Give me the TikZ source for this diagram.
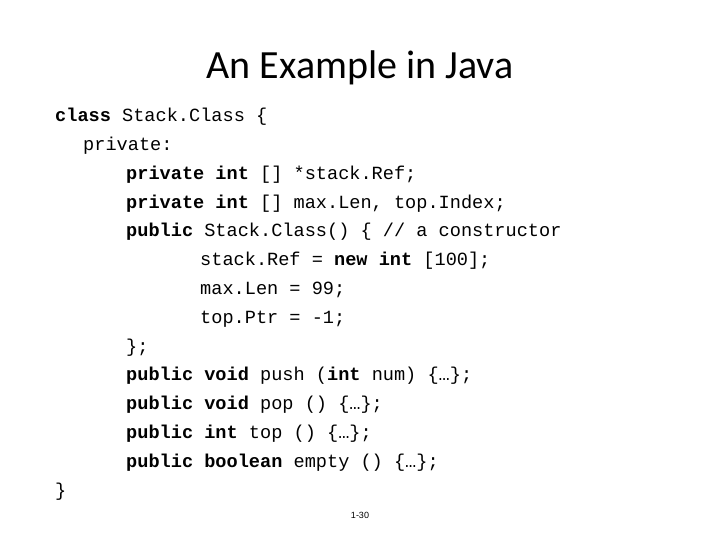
\documentclass[tikz,border=0pt]{standalone}
\usepackage{fontspec}
\setmainfont{Carlito}
\newfontfamily\codefont{Liberation Mono}
\newfontfamily\footfont{Liberation Sans}
\begin{document}
\begin{tikzpicture}[x=1pt,y=1pt,
  code/.style={anchor=west,inner sep=0pt,font=\codefont\fontsize{18.6}{20}\selectfont}]
\useasboundingbox (0,0) rectangle (720,540);
\node[font=\fontsize{40}{44}\selectfont] (title) at (360,472) {An Example in Java};
\node[code] (l1) at (55,423) {\textbf{class} Stack.Class \{};
\node[code] (l2) at (83,394) {private:};
\node[code] (l3) at (126,365) {\textbf{private int} [] *stack.Ref;};
\node[code] (l4) at (126,336) {\textbf{private int} [] max.Len, top.Index;};
\node[code] (l5) at (126,308) {\textbf{public} Stack.Class() \{ // a constructor};
\node[code] (l6) at (200,279) {stack.Ref = \textbf{new int} [100];};
\node[code] (l7) at (200,250) {max.Len = 99;};
\node[code] (l8) at (200,221) {top.Ptr = -1;};
\node[code] (l9) at (126,192) {\};};
\node[code] (l10) at (126,164) {\textbf{public void} push (\textbf{int} num) \{…\};};
\node[code] (l11) at (126,135) {\textbf{public void} pop () \{…\};};
\node[code] (l12) at (126,106) {\textbf{public int} top () \{…\};};
\node[code] (l13) at (126,77) {\textbf{public boolean} empty () \{…\};};
\node[code] (l14) at (55,48) {\}};
\node[font=\footfont\fontsize{9}{10}\selectfont] (foot) at (360,25) {1-30};
\end{tikzpicture}
\end{document}
